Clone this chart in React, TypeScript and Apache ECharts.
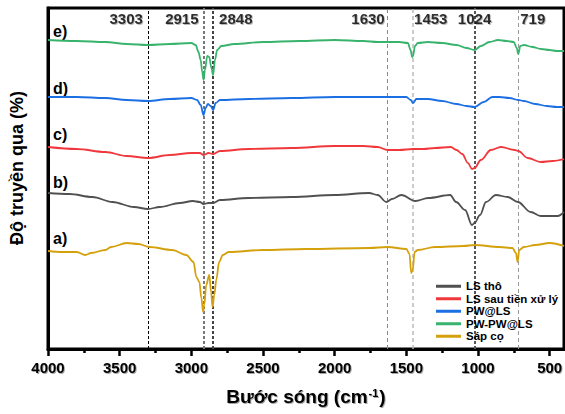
import React, { useEffect, useRef } from "react";
import * as echarts from "echarts";

// Offset transmittance (a.u.) vs wavenumber (cm-1)
const lsTho: [number, number][] = [
  [4000, 156], [3850, 155], [3690, 152], [3550, 147], [3400, 142], [3303, 140], [3220, 142], [3080, 146],
  [2990, 148], [2940, 147], [2915, 145], [2880, 146], [2848, 146], [2800, 149], [2600, 151], [2300, 152],
  [2000, 154], [1760, 156], [1700, 154], [1639, 147], [1600, 150], [1535, 154], [1437, 148], [1347, 151],
  [1194, 154], [1153, 147], [1090, 139], [1042, 124], [1024, 126], [986, 134], [944, 147], [875, 154],
  [792, 152], [722, 147], [632, 137], [563, 133], [444, 133], [400, 137],
];
const lsSau: [number, number][] = [
  [4000, 202], [3800, 200], [3600, 197], [3450, 193], [3303, 191], [3150, 194], [3000, 196], [2940, 196],
  [2915, 194], [2880, 196], [2848, 195], [2800, 198], [2600, 200], [2300, 201], [2000, 203], [1800, 203],
  [1700, 202], [1630, 199], [1550, 199], [1453, 200], [1380, 200], [1300, 201], [1190, 202], [1150, 199],
  [1110, 195], [1070, 186], [1042, 180], [1024, 181], [980, 189], [910, 199], [840, 202], [743, 199],
  [719, 198], [653, 191], [563, 187], [480, 188], [400, 190],
];
const pwLs: [number, number][] = [
  [4000, 252], [3800, 252], [3600, 251], [3450, 249], [3303, 248], [3150, 250], [3000, 251], [2960, 249],
  [2935, 244], [2915, 234], [2900, 241], [2885, 245], [2865, 243], [2848, 239], [2830, 246], [2800, 249],
  [2600, 250], [2300, 251], [2000, 252], [1800, 252], [1630, 252], [1500, 252], [1470, 249], [1453, 246],
  [1430, 250], [1350, 250], [1250, 248], [1150, 245], [1080, 243], [1024, 242], [960, 247], [900, 252],
  [850, 252], [780, 251], [719, 249], [680, 248], [600, 245], [520, 243], [450, 242], [400, 242],
];
const pwPwLs: [number, number][] = [
  [4000, 309], [3800, 308], [3600, 307], [3450, 305], [3303, 304], [3150, 305], [3000, 306], [2970, 304],
  [2950, 297], [2935, 289], [2924, 277], [2915, 269], [2905, 279], [2889, 293], [2875, 292], [2860, 281],
  [2848, 274], [2835, 289], [2820, 299], [2790, 303], [2700, 305], [2500, 307], [2250, 308], [2000, 309],
  [1800, 308], [1700, 307], [1630, 307], [1550, 307], [1490, 306], [1470, 299], [1460, 292], [1453, 293],
  [1440, 303], [1420, 306], [1350, 307], [1250, 306], [1150, 304], [1080, 301], [1024, 299], [980, 303],
  [920, 307], [860, 309], [800, 308], [750, 307], [730, 301], [719, 295], [705, 303], [680, 304],
  [620, 302], [560, 300], [500, 299], [450, 298], [400, 298],
];
const sapCo: [number, number][] = [
  [4000, 98], [3900, 97], [3800, 97], [3740, 94], [3700, 96], [3600, 99], [3560, 102], [3450, 106],
  [3370, 105], [3292, 102], [3132, 99], [3035, 94], [2985, 87], [2965, 72], [2944, 67], [2930, 51],
  [2918, 37], [2910, 44], [2896, 64], [2875, 74], [2862, 57], [2852, 42], [2840, 54], [2826, 69],
  [2806, 87], [2780, 94], [2740, 97], [2500, 99], [2200, 100], [1760, 101], [1630, 102], [1500, 100],
  [1478, 95], [1466, 76], [1456, 79], [1442, 97], [1420, 99], [1300, 102], [1100, 103], [1024, 104],
  [850, 102], [760, 101], [735, 96], [724, 87], [712, 99], [680, 102], [600, 104], [500, 106], [400, 103],
];

const seriesNames = ["LS thô", "LS sau tiền xử lý", "PW@LS", "PW-PW@LS", "Sáp cọ"];
const seriesColors = ["#505050", "#f0383c", "#1b6fe3", "#38b36c", "#d4a00c"];
const peaks = [3303, 2915, 2848, 1630, 1453, 1024, 719];
const majorTicks = [500, 1000, 1500, 2000, 2500, 3000, 3500, 4000];
const minorTicks = [750, 1250, 1750, 2250, 2750, 3250, 3750];
const curveLabels = ["e)", "d)", "c)", "b)", "a)"];

const FONT = '"Liberation Sans", Arial, sans-serif';
const shadow = {
  textShadowColor: "rgba(0,0,0,0.35)",
  textShadowBlur: 1,
  textShadowOffsetX: 1,
  textShadowOffsetY: 1,
};

export default function App() {
  const ref = useRef<HTMLDivElement>(null);
  useEffect(() => {
    if (!ref.current) return;
    const chart = echarts.init(ref.current, undefined, { renderer: "svg" });

    const peakStyles = [
      { color: "#000", width: 1, type: [3, 2] },
      { color: "#777", width: 2, type: [3, 2] },
      { color: "#444", width: 2, type: [3, 2] },
      { color: "#888", width: 1, type: [4, 3] },
      { color: "#bbb", width: 1.5, type: [4, 3] },
      { color: "#555", width: 2, type: [3, 2] },
      { color: "#999", width: 1, type: [4, 3] },
    ];
    const peakLabelPos = [
      { position: "left", distance: 5 },
      { position: "left", distance: 5 },
      { position: "right", distance: 6 },
      { position: "left", distance: 3 },
      { position: "right", distance: 1 },
      { position: "inside", distance: 0 },
      { position: "right", distance: 2 },
    ];

    const lineSeries = [lsTho, lsSau, pwLs, pwPwLs, sapCo].map((d, i) => ({
      name: seriesNames[i],
      type: "line",
      data: d,
      symbol: "none",
      smooth: 0.35,
      smoothMonotone: "x",
      lineStyle: { width: 1.8, color: seriesColors[i] },
      itemStyle: { color: seriesColors[i] },
      z: 3,
      ...(i === 0
        ? {
            markLine: {
              silent: true,
              symbol: ["none", "none"],
              label: { show: false },
              animation: false,
              data: peaks.map((p, k) => ({ xAxis: p, lineStyle: peakStyles[k] })),
              z: 2,
            },
          }
        : {}),
    }));

    const labelSeries = {
      type: "scatter",
      symbolSize: 0,
      silent: true,
      data: peaks.map((p, k) => ({
        value: [p, 331],
        label: { position: peakLabelPos[k].position, distance: peakLabelPos[k].distance },
      })),
      label: {
        show: true,
        formatter: (pr: any) => String(pr.value[0]),
        fontSize: 15,
        fontWeight: "bold",
        fontFamily: FONT,
        color: "#000",
        ...shadow,
      },
      z: 5,
    };

    chart.setOption({
      animation: false,
      grid: {
        left: 48,
        right: 1,
        top: 8,
        bottom: 65,
        show: true,
        borderColor: "#000",
        borderWidth: 3,
        backgroundColor: "transparent",
        outerBoundsMode: "none",
        containLabel: false,
      },
      legend: {
        data: seriesNames,
        orient: "vertical",
        left: 436,
        top: 280,
        itemWidth: 25,
        itemHeight: 3,
        itemGap: 0,
        icon: "rect",
        padding: 0,
        textStyle: {
          fontSize: 11.5,
          fontWeight: "bold",
          fontFamily: FONT,
          color: "#000",
          lineHeight: 12.5,
        },
      },
      xAxis: [
        {
          type: "value",
          min: 400,
          max: 4000,
          inverse: true,
          splitLine: { show: false },
          axisLine: { show: true, onZero: false, lineStyle: { color: "#000", width: 3 } },
          axisTick: { show: true, customValues: majorTicks, length: 7, lineStyle: { color: "#000", width: 2.5 } },
          axisLabel: {
            customValues: majorTicks,
            formatter: (v: number) => String(v),
            margin: 11,
            fontSize: 15,
            fontWeight: "bold",
            fontFamily: FONT,
            color: "#000",
            ...shadow,
          },
          name: "{a|Bước sóng (cm}{s|-1}{a|)}",
          nameLocation: "middle",
          nameGap: 38,
          nameTextStyle: {
            rich: {
              a: { fontSize: 19, fontWeight: "bold", fontFamily: FONT, color: "#000", ...shadow },
              s: { fontSize: 11, fontWeight: "bold", fontFamily: FONT, color: "#000", verticalAlign: "top", padding: [0, 1, 8, 1], ...shadow },
            },
          },
        },
        {
          type: "value",
          min: 400,
          max: 4000,
          inverse: true,
          position: "bottom",
          splitLine: { show: false },
          axisLine: { show: false },
          axisLabel: { show: false },
          axisTick: { show: true, customValues: minorTicks, length: 4, lineStyle: { color: "#000", width: 2.5 } },
        },
      ],
      yAxis: {
        type: "value",
        min: 0,
        max: 341,
        axisLine: { show: true, lineStyle: { color: "#000", width: 3 } },
        axisTick: { show: false },
        axisLabel: { show: false },
        splitLine: { show: false },
      },
      graphic: [
        {
          type: "text",
          x: 17,
          y: 168,
          rotation: Math.PI / 2,
          style: {
            text: "Độ truyền qua (%)",
            fontSize: 18,
            fontWeight: "bold",
            fontFamily: FONT,
            fill: "#000",
            align: "center",
            verticalAlign: "middle",
          },
        },
        ...curveLabels.map((t, i) => ({
          type: "text",
          x: 53,
          y: [31, 88, 134, 182, 238][i],
          style: {
            text: t,
            fontSize: 16,
            fontWeight: "bold",
            fontFamily: FONT,
            fill: "#000",
            align: "left",
            verticalAlign: "middle",
          },
        })),
      ],
      series: [...lineSeries, labelSeries],
    });
    return () => chart.dispose();
  }, []);
  return <div ref={ref} style={{ width: 565, height: 414, position: "absolute", left: 0, top: 0 }} />;
}
